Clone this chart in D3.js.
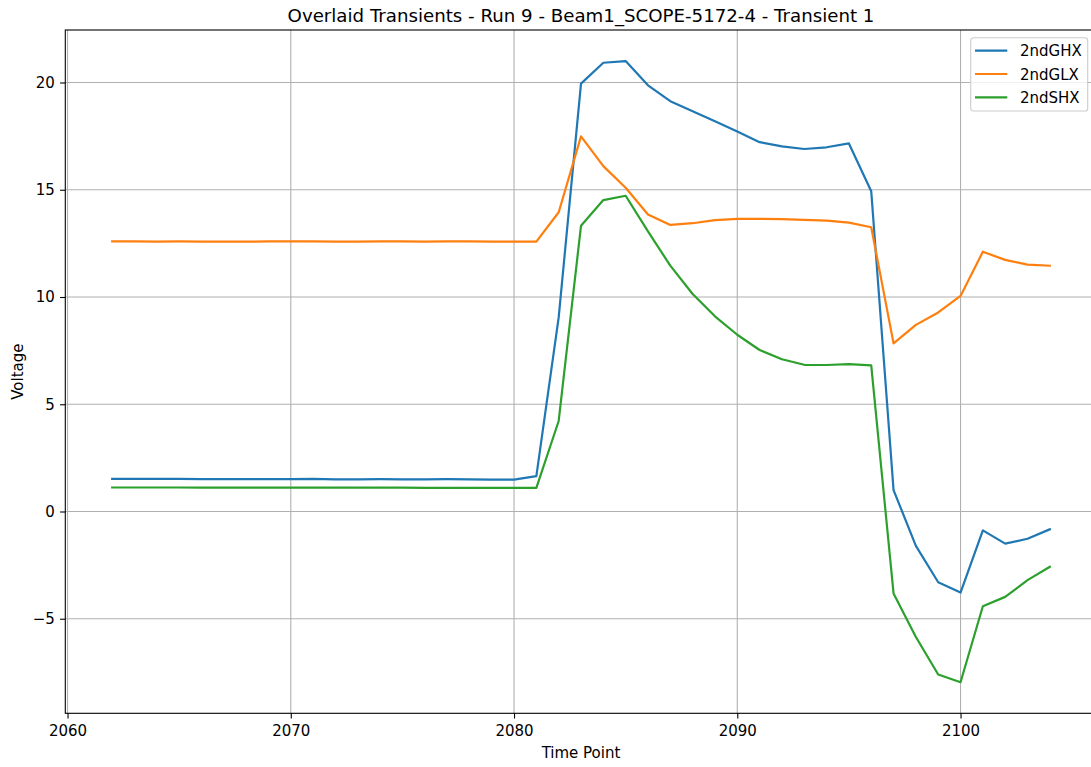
<!DOCTYPE html>
<html>
<head>
<meta charset="utf-8">
<script src="https://cdn.jsdelivr.net/npm/d3@7"></script>
<style>
  html, body { margin: 0; padding: 0; background: #fff; }
  svg { display: block; font-family: "DejaVu Sans", sans-serif; }
</style>
</head>
<body>
<svg id="chart" width="1091" height="767"></svg>
<script>
// ---- Data ----
const timePoints = d3.range(2062, 2105); // 2062..2104
const seriesNames = ["2ndGHX", "2ndGLX", "2ndSHX"];
const seriesColors = ["#1f77b4", "#ff7f0e", "#2ca02c"];

const ghx = [1.52, 1.52, 1.52, 1.52, 1.51, 1.51, 1.51, 1.51, 1.51, 1.52,
             1.50, 1.50, 1.51, 1.50, 1.50, 1.51, 1.50, 1.49, 1.49, 1.65,
             9.05, 19.95, 20.92, 21.0, 19.87, 19.13, 18.66, 18.19, 17.72, 17.22,
             17.02, 16.90, 16.98, 17.16, 14.93, 1.0, -1.6, -3.3, -3.78, -0.88,
             -1.5, -1.27, -0.83];
const glx = [12.59, 12.59, 12.58, 12.59, 12.58, 12.58, 12.58, 12.59, 12.59, 12.59,
             12.58, 12.58, 12.59, 12.59, 12.58, 12.59, 12.59, 12.58, 12.58, 12.58,
             13.95, 17.49, 16.10, 15.09, 13.85, 13.36, 13.44, 13.58, 13.64, 13.64,
             13.63, 13.60, 13.56, 13.47, 13.25, 7.84, 8.70, 9.28, 10.05, 12.11,
             11.73, 11.51, 11.46];
const shx = [1.12, 1.12, 1.12, 1.12, 1.11, 1.11, 1.11, 1.11, 1.11, 1.11,
             1.11, 1.11, 1.11, 1.11, 1.10, 1.10, 1.10, 1.10, 1.10, 1.10,
             4.22, 13.32, 14.52, 14.72, 13.06, 11.46, 10.14, 9.10, 8.24, 7.53,
             7.10, 6.84, 6.83, 6.87, 6.81, -3.82, -5.85, -7.60, -7.96, -4.42,
             -3.98, -3.20, -2.58];
const seriesValues = [ghx, glx, shx];

const xTicks = [2060, 2070, 2080, 2090, 2100];
const yTicks = [-5, 0, 5, 10, 15, 20];

const titleText = "Overlaid Transients - Run 9 - Beam1_SCOPE-5172-4 - Transient 1";
const xLabel = "Time Point";
const yLabel = "Voltage";

// ---- Layout ----
const svg = d3.select("#chart");
const mLeft = 65.3, mTop = 30, mBottom = 713.3;
const fs = 15, titleFs = 18.2, lw = 2.2;

const xMin = d3.min(timePoints), xMax = d3.max(timePoints);
const xPad = (xMax - xMin) * 0.05;
const x = d3.scaleLinear().domain([xMin - xPad, xMax + xPad])
  .range([mLeft, mLeft + (xMax - xMin + 2 * xPad) * 22.325]);

const allVals = seriesValues.flat();
const yMin = d3.min(allVals), yMax = d3.max(allVals);
const yPad = (yMax - yMin) * 0.05;
const y = d3.scaleLinear().domain([yMin - yPad, yMax + yPad]).range([mBottom, mTop]);

const mRight = x.range()[1];

// grid
const grid = svg.append("g");
grid.selectAll("line.gx").data(xTicks).enter().append("line")
  .attr("x1", d => x(d)).attr("x2", d => x(d))
  .attr("y1", mTop).attr("y2", mBottom)
  .attr("stroke", "#b0b0b0").attr("stroke-width", 1.1);
grid.selectAll("line.gy").data(yTicks).enter().append("line")
  .attr("x1", mLeft).attr("x2", mRight)
  .attr("y1", d => y(d)).attr("y2", d => y(d))
  .attr("stroke", "#b0b0b0").attr("stroke-width", 1.1);

// lines
const line = d3.line().x((d, i) => x(timePoints[i])).y(d => y(d));
seriesValues.forEach((vals, k) => {
  svg.append("path").datum(vals)
    .attr("d", line)
    .attr("fill", "none")
    .attr("stroke", seriesColors[k])
    .attr("stroke-width", lw)
    .attr("stroke-linejoin", "round")
    .attr("stroke-linecap", "square");
});

// frame
svg.append("rect").attr("x", mLeft).attr("y", mTop)
  .attr("width", mRight - mLeft).attr("height", mBottom - mTop)
  .attr("fill", "none").attr("stroke", "#000").attr("stroke-width", 1.1);

// axes
const fmt = d => (d < 0 ? "\u2212" + Math.abs(d) : String(d));
const xAxis = svg.append("g").attr("transform", `translate(0,${mBottom})`)
  .call(d3.axisBottom(x).tickValues(xTicks).tickFormat(fmt).tickSize(5.2).tickPadding(6.5));
const yAxis = svg.append("g").attr("transform", `translate(${mLeft},0)`)
  .call(d3.axisLeft(y).tickValues(yTicks).tickFormat(fmt).tickSize(5.2).tickPadding(5.2));
[xAxis, yAxis].forEach(a => {
  a.select(".domain").remove();
  a.selectAll(".tick line").attr("stroke", "#000").attr("stroke-width", 1.1);
  a.selectAll(".tick text").attr("fill", "#000")
    .style("font-family", "'DejaVu Sans', sans-serif").style("font-size", fs + "px");
});

// title and labels
svg.append("text").attr("x", (mLeft + mRight) / 2).attr("y", 22)
  .attr("text-anchor", "middle").style("font-size", titleFs + "px").attr("fill", "#000")
  .text(titleText);
svg.append("text").attr("x", (mLeft + mRight) / 2).attr("y", 757.5)
  .attr("text-anchor", "middle").style("font-size", fs + "px").attr("fill", "#000")
  .text(xLabel);
svg.append("text")
  .attr("transform", `translate(22.5,${(mTop + mBottom) / 2}) rotate(-90)`)
  .attr("text-anchor", "middle").style("font-size", fs + "px").attr("fill", "#000")
  .text(yLabel);

// legend
const lg = svg.append("g").attr("transform", "translate(970.7,37.7)");
lg.append("rect").attr("width", 117).attr("height", 73.3).attr("rx", 2.8)
  .attr("fill", "#fff").attr("fill-opacity", 0.8)
  .attr("stroke", "#cccccc").attr("stroke-width", 1.1);
seriesNames.forEach((name, k) => {
  const yy = 13 + k * 23.3;
  lg.append("line").attr("x1", 4.3).attr("x2", 36.6).attr("y1", yy).attr("y2", yy)
    .attr("stroke", seriesColors[k]).attr("stroke-width", lw);
  lg.append("text").attr("x", 49.3).attr("y", yy + 5.7).style("font-size", fs + "px")
    .attr("fill", "#000").text(name);
});
</script>
</body>
</html>
